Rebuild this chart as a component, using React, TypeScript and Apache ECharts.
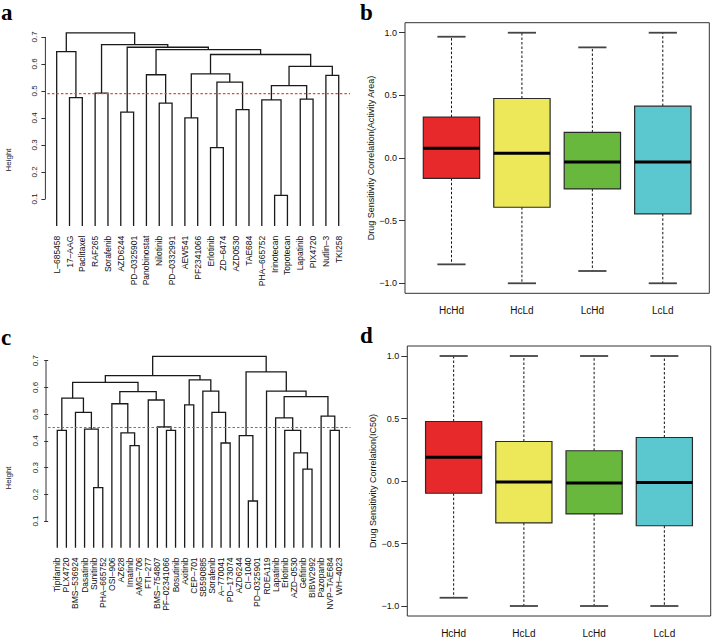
import React, { useEffect, useRef } from "react";
import * as echarts from "echarts";

// ---------- Data ----------
// Panel a: hierarchical clustering (Activity Area)
const leavesA = [
  "L–685458", "17–AAG", "Paclitaxel", "RAF265", "Sorafenib", "AZD6244", "PD–0325901",
  "Panobinostat", "Nilotinib", "PD–0332991", "AEW541", "PF2341066", "Erlotinib", "ZD–6474",
  "AZD0530", "TAE684", "PHA–665752", "Irinotecan", "Topotecan", "Lapatinib", "PIX4720",
  "Nutlin–3", "TKI258",
];
// merges: [left, right, height]; negative = leaf position (1-based), positive = earlier merge (1-based)
const mergesA: [number, number, number][] = [
  [-18, -19, 0.113], [-13, -14, 0.29], [-11, -12, 0.4], [-6, -7, 0.422],
  [-15, -16, 0.431], [-9, -10, 0.455], [-17, 1, 0.467], [-20, -21, 0.47],
  [-2, -3, 0.475], [-4, -5, 0.492], [7, 8, 0.52], [2, 5, 0.533],
  [-22, -23, 0.558], [-8, 6, 0.56], [3, 12, 0.563], [11, 13, 0.591],
  [15, 16, 0.635], [-1, 9, 0.646], [14, 17, 0.653], [4, 19, 0.662],
  [10, 20, 0.672], [18, 21, 0.715],
];
const cutA = 0.49;

// Panel c: hierarchical clustering (IC50)
const leavesC = [
  "Tipifarnib", "PLX4720", "BMS–536924", "Dasatinib", "Sunitinib", "PHA–665752", "OSI–906",
  "AZ628", "Imatinib", "AMG–706", "FTI–277", "BMS–754807", "PF–02341066", "Bosutinib",
  "Axitinib", "CEP–701", "SB590885", "Sorafenib", "A–770041", "PD–173074", "AZD6244",
  "CI–1040", "PD–0325901", "RDEA119", "Lapatinib", "Erlotinib", "AZD–0530", "Gefitinib",
  "BIBW2992", "Pazopanib", "NVP–TAE684", "WH–4023",
];
const mergesC: [number, number, number][] = [
  [-22, -23, 0.175], [-5, -6, 0.225], [-28, -29, 0.294], [-27, 3, 0.355],
  [-9, -10, 0.382], [-19, -20, 0.392], [-21, 1, 0.42], [-8, 5, 0.43],
  [-1, -2, 0.439], [-13, -14, 0.439], [-26, 4, 0.439], [-31, -32, 0.439],
  [-4, 2, 0.444], [-12, 10, 0.452], [-25, 11, 0.486], [-30, 12, 0.493],
  [-3, 13, 0.507], [-18, 6, 0.507], [-15, -16, 0.535], [-7, 8, 0.539],
  [-11, 14, 0.553], [9, 17, 0.56], [15, 16, 0.566], [20, 21, 0.584],
  [-17, 18, 0.586], [-24, 23, 0.586], [22, 24, 0.619], [19, 25, 0.628],
  [27, 28, 0.644], [7, 26, 0.658], [29, 30, 0.716],
];
const cutC = 0.45;
const heightTicks = [0.1, 0.2, 0.3, 0.4, 0.5, 0.6, 0.7];

// Panels b, d: boxplots [lower whisker, Q1, median, Q3, upper whisker]
const groups = ["HcHd", "HcLd", "LcHd", "LcLd"];
const groupColors = ["#E8292B", "#ECE85A", "#69B83E", "#5BC8D0"];
const activityAreaStats = [
  [-0.849, -0.162, 0.077, 0.326, 0.968],
  [-1.0, -0.393, 0.037, 0.475, 1.0],
  [-0.902, -0.247, -0.032, 0.204, 0.883],
  [-1.0, -0.446, -0.032, 0.414, 1.0],
];
const ic50Stats = [
  [-0.934, -0.098, 0.191, 0.476, 1.0],
  [-1.0, -0.335, -0.008, 0.316, 1.0],
  [-1.0, -0.263, -0.016, 0.242, 1.0],
  [-1.0, -0.358, -0.011, 0.348, 1.0],
];
const corrTicks = [-1, -0.5, 0, 0.5, 1];

// ---------- Helpers ----------
const FONT = "'Liberation Sans', Arial, sans-serif";

function dendroSegments(merges: [number, number, number][]) {
  const nodeX: number[] = [];
  const nodeH: number[] = [];
  const pos = (ref: number): [number, number] =>
    ref < 0 ? [-ref, 0] : [nodeX[ref - 1], nodeH[ref - 1]];
  return merges.map(([l, r, h]) => {
    const [xl, hl] = pos(l);
    const [xr, hr] = pos(r);
    nodeX.push((xl + xr) / 2);
    nodeH.push(h);
    return [xl, hl, xr, hr, h];
  });
}

const fmtNum = (v: number) => v.toFixed(1).replace("-", "−");

function dendroAxes(grid: number, leaves: string[], merges: [number, number, number][]) {
  const n = leaves.length;
  const hmax = Math.max(...merges.map((m) => m[2]));
  const xAxis = {
    gridIndex: grid,
    type: "value",
    min: 1 - 0.04 * (n - 1),
    max: n + 0.04 * (n - 1),
    axisLine: { show: false },
    axisTick: { show: false },
    splitLine: { show: false },
    axisLabel: {
      customValues: leaves.map((_, i) => i + 1),
      formatter: (v: number) => leaves[Math.round(v) - 1] ?? "",
      rotate: 90,
      fontSize: 8.5,
      color: "#111",
      margin: 2,
      fontFamily: FONT,
    },
  };
  const yAxis = {
    gridIndex: grid,
    type: "value",
    min: -0.04 * hmax,
    max: hmax * 1.04,
    axisLine: { show: false },
    splitLine: { show: false },
    axisTick: { show: true, length: 4, customValues: heightTicks, lineStyle: { color: "#333", width: 1 } },
    axisLabel: {
      customValues: heightTicks,
      rotate: 90,
      formatter: (v: number) => v.toFixed(1),
      fontSize: 8,
      margin: 7,
      color: "#222",
      fontFamily: FONT,
    },
  };
  return { xAxis, yAxis };
}

function boxAxes(grid: number, stats: number[][], name: string) {
  const lo = Math.min(...stats.map((s) => s[0]));
  const hi = Math.max(...stats.map((s) => s[4]));
  const ext = 0.04 * (hi - lo);
  const k = groups.length;
  const pos = groups.map((_, i) => i + 1);
  const xAxis = {
    gridIndex: grid,
    type: "value",
    min: 0.5 - 0.04 * k,
    max: k + 0.5 + 0.04 * k,
    axisLine: { show: false },
    splitLine: { show: false },
    axisTick: { show: true, length: 6, customValues: pos, lineStyle: { color: "#333" } },
    axisLabel: {
      customValues: pos,
      formatter: (v: number) => groups[Math.round(v) - 1] ?? "",
      fontSize: 10,
      margin: 12,
      color: "#111",
      fontFamily: FONT,
    },
  };
  const yAxis = {
    gridIndex: grid,
    type: "value",
    min: lo - ext,
    max: hi + ext,
    axisLine: { show: false },
    splitLine: { show: false },
    axisTick: { show: true, length: 6, customValues: corrTicks, lineStyle: { color: "#333" } },
    axisLabel: {
      customValues: corrTicks,
      formatter: fmtNum,
      fontSize: 9,
      margin: 8,
      color: "#111",
      fontFamily: FONT,
    },
    name,
    nameLocation: "middle",
    nameRotate: 90,
    nameGap: 28,
    nameTextStyle: { fontSize: 9, color: "#111", fontFamily: FONT },
  };
  return { xAxis, yAxis };
}

function dendroSeries(idx: number, merges: [number, number, number][], cut: number) {
  return [
    {
      type: "custom",
      xAxisIndex: idx,
      yAxisIndex: idx,
      data: dendroSegments(merges),
      encode: { x: [0, 2], y: [1, 3, 4] },
      renderItem: (_p: any, api: any) => {
        const p1 = api.coord([api.value(0), api.value(1)]);
        const p2 = api.coord([api.value(0), api.value(4)]);
        const p3 = api.coord([api.value(2), api.value(4)]);
        const p4 = api.coord([api.value(2), api.value(3)]);
        return {
          type: "polyline",
          shape: { points: [p1, p2, p3, p4] },
          style: { stroke: "#1a1a1a", lineWidth: 1.3, fill: null },
        };
      },
    },
    {
      // y axis line spanning first..last tick (R style)
      type: "custom",
      xAxisIndex: idx,
      yAxisIndex: idx,
      data: [[1, heightTicks[0], heightTicks[heightTicks.length - 1]]],
      encode: { x: 0, y: [1, 2] },
      renderItem: (p: any, api: any) => {
        const cs = p.coordSys;
        const y0 = api.coord([1, api.value(1)])[1];
        const y1 = api.coord([1, api.value(2)])[1];
        return {
          type: "line",
          shape: { x1: cs.x, y1: y0, x2: cs.x, y2: y1 },
          style: { stroke: "#333", lineWidth: 1 },
        };
      },
    },
    {
      // cut line
      type: "custom",
      xAxisIndex: idx,
      yAxisIndex: idx,
      data: [[1, cut]],
      encode: { x: 0, y: 1 },
      z: 5,
      renderItem: (p: any, api: any) => {
        const cs = p.coordSys;
        const y = api.coord([1, api.value(1)])[1];
        return {
          type: "line",
          shape: { x1: cs.x + 2, y1: y, x2: cs.x + cs.width, y2: y },
          style: { stroke: "#E8454B", lineWidth: 1.2, lineDash: [2.5, 2] },
        };
      },
    },
  ];
}

function boxSeries(idx: number, stats: number[][]) {
  return {
    type: "custom",
    xAxisIndex: idx,
    yAxisIndex: idx,
    data: stats.map((s, i) => [i + 1, ...s]),
    encode: { x: 0, y: [1, 2, 3, 4, 5] },
    renderItem: (p: any, api: any) => {
      const x = api.value(0);
      const c = (v: number) => api.coord([x, v]);
      const pLo = c(api.value(1));
      const pQ1 = c(api.value(2));
      const pMed = c(api.value(3));
      const pQ3 = c(api.value(4));
      const pHi = c(api.value(5));
      const halfW = api.size([0.8, 0])[0] / 2;
      const capW = halfW / 2;
      const cx = pMed[0];
      const color = groupColors[p.dataIndex];
      return {
        type: "group",
        children: [
          {
            type: "line",
            shape: { x1: cx, y1: pQ3[1], x2: cx, y2: pHi[1] },
            style: { stroke: "#111", lineWidth: 1, lineDash: [2.5, 2] },
          },
          {
            type: "line",
            shape: { x1: cx, y1: pQ1[1], x2: cx, y2: pLo[1] },
            style: { stroke: "#111", lineWidth: 1, lineDash: [2.5, 2] },
          },
          {
            type: "line",
            shape: { x1: cx - capW, y1: pHi[1], x2: cx + capW, y2: pHi[1] },
            style: { stroke: "#444", lineWidth: 1.8 },
          },
          {
            type: "line",
            shape: { x1: cx - capW, y1: pLo[1], x2: cx + capW, y2: pLo[1] },
            style: { stroke: "#444", lineWidth: 1.8 },
          },
          {
            type: "rect",
            shape: { x: cx - halfW, y: pQ3[1], width: 2 * halfW, height: pQ1[1] - pQ3[1] },
            style: { fill: color, stroke: "#2a2a2a", lineWidth: 1.2 },
          },
          {
            type: "line",
            shape: { x1: cx - halfW, y1: pMed[1], x2: cx + halfW, y2: pMed[1] },
            style: { stroke: "#000", lineWidth: 3 },
          },
        ],
      };
    },
  };
}

function panelLetter(text: string, x: number, y: number) {
  return {
    type: "text",
    x,
    y,
    style: {
      text,
      fontSize: 23,
      fontWeight: "bold",
      fontFamily: "'Liberation Serif', 'Times New Roman', serif",
      fill: "#000",
      textVerticalAlign: "top",
    },
  };
}

function heightLabel(x: number, y: number) {
  return {
    type: "text",
    x,
    y,
    rotation: Math.PI / 2,
    style: {
      text: "Height",
      fontSize: 8,
      fontFamily: FONT,
      fill: "#222",
      textAlign: "center",
      textVerticalAlign: "middle",
    },
  };
}

export default function App() {
  const ref = useRef<HTMLDivElement>(null);
  useEffect(() => {
    if (!ref.current) return;
    const chart = echarts.init(ref.current, undefined, { renderer: "svg" });
    const a = dendroAxes(0, leavesA, mergesA);
    const b = boxAxes(1, activityAreaStats, "Drug Sensitivity Correlation(Activity Area)");
    const c = dendroAxes(2, leavesC, mergesC);
    const d = boxAxes(3, ic50Stats, "Drug Sensitivity Correlation(IC50)");
    const option: any = {
      animation: false,
      textStyle: { fontFamily: FONT },
      grid: [
        { left: 45.4, top: 25.2, width: 304.6, height: 208.5 },
        { left: 405, top: 22.7, width: 304.3, height: 270.6, show: true, borderColor: "#333", borderWidth: 1 },
        { left: 46, top: 348.8, width: 304.6, height: 206.6 },
        { left: 407.3, top: 346, width: 303.4, height: 270.7, show: true, borderColor: "#333", borderWidth: 1 },
      ],
      xAxis: [a.xAxis, b.xAxis, c.xAxis, d.xAxis],
      yAxis: [a.yAxis, b.yAxis, c.yAxis, d.yAxis],
      series: [
        ...dendroSeries(0, mergesA, cutA),
        boxSeries(1, activityAreaStats),
        ...dendroSeries(2, mergesC, cutC),
        boxSeries(3, ic50Stats),
      ],
      graphic: [
        panelLetter("a", 1, 1),
        panelLetter("b", 360, 1),
        panelLetter("c", 1, 326),
        panelLetter("d", 360, 324),
        heightLabel(8, 160),
        heightLabel(8, 478),
      ],
    };
    chart.setOption(option);
    return () => chart.dispose();
  }, []);
  return (
    <div
      ref={ref}
      style={{ position: "fixed", left: 0, top: 0, width: 712, height: 638, background: "#fff" }}
    />
  );
}
